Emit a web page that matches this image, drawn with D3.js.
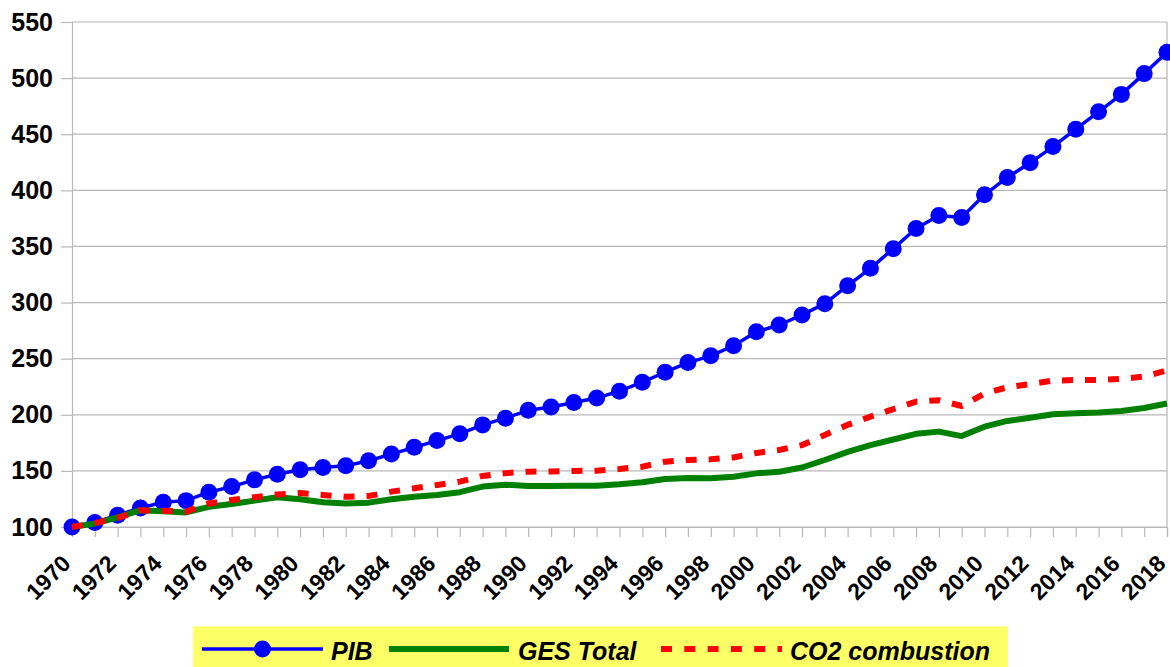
<!DOCTYPE html>
<html>
<head>
<meta charset="utf-8">
<script src="https://cdn.jsdelivr.net/npm/d3@7/dist/d3.min.js"></script>
<style>
  html, body { margin: 0; padding: 0; background: #ffffff; }
  svg { display: block; }
  text { font-family: "Liberation Sans", Arial, sans-serif; }
</style>
</head>
<body>
<svg id="chart" width="1170" height="667"></svg>
<script>
// Annual index values, base 100 in 1970
const years = d3.range(1970, 2019);

const pib = [
  100, 104, 110.5, 117, 122, 123.5, 131, 136, 142, 147,
  151, 153, 154.5, 159, 165, 171, 177, 183, 191, 197,
  204, 207, 211, 215, 221, 229, 238, 246.5, 252.5, 261.5,
  274, 280, 289, 299, 315, 330.5, 348, 366, 377.5, 375.7,
  396, 411.5, 424.5, 439, 454.5, 470, 485.5, 504, 523
];

const gesTotal = [
  100, 103, 108.5, 115, 114, 113, 118, 120.5, 123.5, 126.5,
  124.7, 122, 121, 121.7, 124.7, 127, 128.5, 131, 136, 137.7,
  136.5, 136.5, 136.8, 136.8, 138, 139.8, 142.8, 143.7, 143.4, 144.8,
  147.8, 149.3, 153, 159.7, 167, 173, 178, 183, 185, 181,
  189.4, 194.5, 197.4, 200.4, 201.3, 202, 203.4, 206, 210
];

const co2Combustion = [
  100, 103.5, 108, 115, 114.5, 113.7, 121, 124, 126.5, 129,
  130.3, 128.5, 127, 127.6, 131.5, 134.5, 137.4, 140.4, 145.5, 148,
  149.3, 149.5, 150, 150.2, 151.7, 153.7, 158.2, 159.7, 160.3, 162,
  166, 168.6, 173, 182, 191, 198.3, 205, 211.7, 213, 207.8,
  219, 224.5, 227.4, 230.4, 231, 231, 232, 234, 239.5
];

const yTicks = [100, 150, 200, 250, 300, 350, 400, 450, 500, 550];
const xLabelYears = d3.range(1970, 2019, 2);

const seriesNames = ["PIB", "GES Total", "CO2 combustion"];

const svg = d3.select("#chart");
const plot = { left: 72, right: 1167, top: 22, bottom: 527 };

const x = d3.scaleLinear().domain([1970, 2018]).range([plot.left, plot.right]);
const y = d3.scaleLinear().domain([100, 550]).range([plot.bottom, plot.top]);

const gridColor = "#b8b8b8";

// horizontal gridlines
svg.append("g")
  .selectAll("line")
  .data(yTicks)
  .join("line")
  .attr("x1", plot.left).attr("x2", plot.right)
  .attr("y1", d => y(d)).attr("y2", d => y(d))
  .attr("stroke", gridColor).attr("stroke-width", 1.2);

// right frame edge
svg.append("line")
  .attr("x1", plot.right).attr("x2", plot.right)
  .attr("y1", plot.top).attr("y2", plot.bottom)
  .attr("stroke", gridColor).attr("stroke-width", 1.2);

// y axis
const yAxis = svg.append("g")
  .attr("transform", `translate(${plot.left},0)`)
  .call(d3.axisLeft(y).tickValues(yTicks).tickSize(11).tickPadding(8).tickFormat(d3.format("d")));
yAxis.select(".domain").attr("stroke", gridColor).attr("stroke-width", 1.2);
yAxis.selectAll(".tick line").attr("stroke", gridColor).attr("stroke-width", 1.2);
yAxis.selectAll(".tick text")
  .attr("font-size", 25).attr("font-weight", "bold").attr("fill", "#000")
  .attr("font-family", "'Liberation Sans', Arial, sans-serif");

// x axis: a tick every year, a label every other year
const xAxis = svg.append("g")
  .attr("transform", `translate(0,${plot.bottom})`)
  .call(d3.axisBottom(x).tickValues(years).tickSize(10)
    .tickFormat(d => xLabelYears.includes(d) ? String(d) : ""));
xAxis.select(".domain").attr("stroke", gridColor).attr("stroke-width", 1.2);
xAxis.selectAll(".tick line").attr("stroke", gridColor).attr("stroke-width", 1.2);
xAxis.selectAll(".tick text")
  .attr("font-size", 23).attr("font-weight", "bold").attr("fill", "#000")
  .attr("font-family", "'Liberation Sans', Arial, sans-serif")
  .attr("text-anchor", "end")
  .attr("y", 0).attr("dy", 0)
  .attr("transform", "translate(-0.5,38) rotate(-45)");

const line = d3.line().x((d, i) => x(years[i])).y(d => y(d));

// PIB: line with round markers
svg.append("path")
  .datum(pib)
  .attr("d", line)
  .attr("fill", "none")
  .attr("stroke", "#0000ff")
  .attr("stroke-width", 3.5)
  .attr("stroke-linejoin", "round");

svg.append("g")
  .selectAll("circle")
  .data(pib)
  .join("circle")
  .attr("cx", (d, i) => x(years[i]))
  .attr("cy", d => y(d))
  .attr("r", 8.5)
  .attr("fill", "#0000ff");

// GES Total: solid green
svg.append("path")
  .datum(gesTotal)
  .attr("d", line)
  .attr("fill", "none")
  .attr("stroke", "#008000")
  .attr("stroke-width", 6)
  .attr("stroke-linejoin", "round");

// CO2 combustion: red dashes
svg.append("path")
  .datum(co2Combustion)
  .attr("d", line)
  .attr("fill", "none")
  .attr("stroke", "#ff0000")
  .attr("stroke-width", 6)
  .attr("stroke-dasharray", "11,12");

// legend
const legend = svg.append("g");
legend.append("rect")
  .attr("x", 193).attr("y", 626.5)
  .attr("width", 815).attr("height", 42)
  .attr("fill", "#ffff66");

const ly = 649;
const textY = 660;

legend.append("line")
  .attr("x1", 202).attr("x2", 323).attr("y1", ly).attr("y2", ly)
  .attr("stroke", "#0000ff").attr("stroke-width", 3.5);
legend.append("circle")
  .attr("cx", 262.5).attr("cy", ly).attr("r", 8.5).attr("fill", "#0000ff");

legend.append("line")
  .attr("x1", 389).attr("x2", 509).attr("y1", ly).attr("y2", ly)
  .attr("stroke", "#008000").attr("stroke-width", 6);

legend.append("line")
  .attr("x1", 661).attr("x2", 782).attr("y1", ly).attr("y2", ly)
  .attr("stroke", "#ff0000").attr("stroke-width", 6)
  .attr("stroke-dasharray", "11,12.3");

const legendTextX = [331, 518, 790];
legend.selectAll("text.lg")
  .data(seriesNames)
  .join("text")
  .attr("class", "lg")
  .attr("x", (d, i) => legendTextX[i])
  .attr("y", textY)
  .attr("font-size", 25)
  .attr("font-weight", "bold")
  .attr("font-style", "italic")
  .attr("fill", "#000")
  .text(d => d);
</script>
</body>
</html>
